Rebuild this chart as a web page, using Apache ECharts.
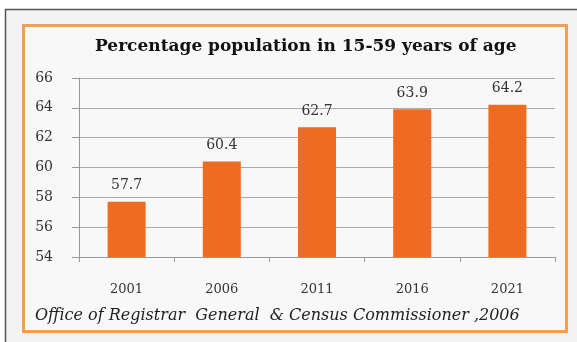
<!DOCTYPE html>
<html>
<head>
<meta charset="utf-8">
<script src="https://cdn.jsdelivr.net/npm/echarts@6/dist/echarts.min.js"></script>
<style>
html,body{margin:0;padding:0;background:#ffffff;}
#c{width:577px;height:342px;}
</style>
</head>
<body>
<div id="c"></div>
<script>
const titleText = 'Percentage population in 15-59 years of age';
const sourceText = 'Office of Registrar  General  & Census Commissioner ,2006';
const categories = ['2001', '2006', '2011', '2016', '2021'];
const values = [57.7, 60.4, 62.7, 63.9, 64.2];
const yTicks = [54, 56, 58, 60, 62, 64, 66];

const chart = echarts.init(document.getElementById('c'), null, {renderer: 'canvas'});
chart.setOption({
  backgroundColor: '#ffffff',
  animation: false,
  graphic: [
    {type: 'rect', z: -10, shape: {x: 5.5, y: 9.5, width: 580, height: 340},
     style: {fill: '#f3f3f3', stroke: '#555', lineWidth: 1.5}},
    {type: 'rect', z: -9, shape: {x: 23.5, y: 25.5, width: 543, height: 306},
     style: {fill: '#f8f8f8', stroke: '#f0a055', lineWidth: 3}},
    {type: 'text', left: 95, top: 38, z: 5,
     style: {text: titleText, font: 'bold 17px "DejaVu Serif"', fill: '#111'}},
    {type: 'text', left: 35, top: 308, z: 5,
     style: {text: sourceText, font: 'italic 16px "DejaVu Serif"', fill: '#222'}}
  ],
  grid: {left: 79, right: 22, top: 78, bottom: 85, containLabel: false},
  xAxis: {
    type: 'category',
    data: categories,
    axisLine: {lineStyle: {color: '#999', width: 1}},
    axisTick: {show: true, length: 5, lineStyle: {color: '#999'}},
    axisLabel: {color: '#333', fontFamily: 'DejaVu Serif', fontSize: 13, margin: 26}
  },
  yAxis: {
    type: 'value',
    min: 54, max: 66, interval: 2,
    axisLine: {show: true, lineStyle: {color: '#999', width: 1}},
    axisTick: {show: true, length: 7, lineStyle: {color: '#999'}},
    splitLine: {lineStyle: {color: '#aaa', width: 1}},
    axisLabel: {color: '#333', fontFamily: 'DejaVu Serif', fontSize: 14, margin: 26,
      formatter: v => yTicks.includes(v) ? String(v) : ''}
  },
  series: [{
    type: 'bar',
    data: values,
    barWidth: 38,
    itemStyle: {color: '#ee6b22'},
    label: {show: true, position: 'top', distance: 9, color: '#333',
      fontFamily: 'DejaVu Serif', fontSize: 14}
  }]
});
</script>
</body>
</html>
